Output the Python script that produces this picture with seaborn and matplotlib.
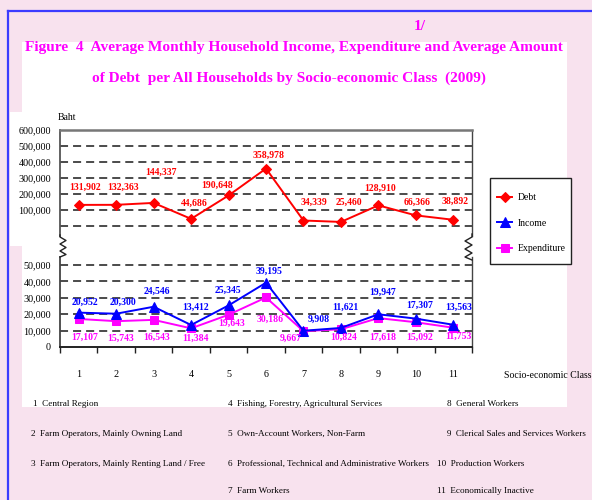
import numpy as np
import pandas as pd
import matplotlib
matplotlib.use("Agg")
import matplotlib.pyplot as plt
import seaborn as sns
from matplotlib.lines import Line2D
from matplotlib.patches import Rectangle

# ---------------- data ----------------
classes = [1, 2, 3, 4, 5, 6, 7, 8, 9, 10, 11]
class_labels = ["1", "2", "3", "4", "5", "6", "7", "8", "9", "10", "11"]
debt = [131902, 132363, 144337, 44686, 190648, 358978, 34339, 25460, 128910, 66366, 38892]
income = [20952, 20300, 24546, 13412, 25345, 39195, 9908, 11621, 19947, 17307, 13563]
expenditure = [17107, 15743, 16543, 11384, 19643, 30186, 9667, 10824, 17618, 15092, 11753]
top_ticks = [100000, 200000, 300000, 400000, 500000, 600000]
bottom_ticks = [0, 10000, 20000, 30000, 40000, 50000]
class_names = [
    "Central Region",
    "Farm Operators, Mainly Owning Land",
    "Farm Operators, Mainly Renting Land / Free",
    "Fishing, Forestry, Agricultural Services",
    "Own-Account Workers, Non-Farm",
    "Professional, Technical and Administrative Workers",
    "Farm Workers",
    "General Workers",
    "Clerical Sales and Services Workers",
    "Production Workers",
    "Economically Inactive",
]
title1 = "Figure  4  Average Monthly Household Income, Expenditure and Average Amount"
title2 = "of Debt  per All Households by Socio-economic Class  (2009)"

# ---------------- style ----------------
plt.rcParams["font.family"] = ["Liberation Serif", "DejaVu Serif"]
plt.rcParams["lines.scale_dashes"] = False

PINK = "#f8e2ee"
RED = "#ff0000"
BLUE = "#0000ff"
MAG = "#ff00ff"

W, H = 592, 500
fig = plt.figure(figsize=(W / 100, H / 100), dpi=100, facecolor=PINK)


def fx(x):
    return x / W


def fy(y):
    return 1 - y / H


# white panels
for (x0, y0, x1, y1) in [(22, 42, 567, 407), (10, 112, 22, 246)]:
    fig.add_artist(Rectangle((fx(x0), fy(y1)), fx(x1) - fx(x0), fy(y0) - fy(y1),
                             transform=fig.transFigure, facecolor="white",
                             edgecolor="none", zorder=-5))
# blue frame
fig.add_artist(Line2D([fx(7.5), fx(7.5)], [fy(11), 0], color="#3c3cff", lw=1.6, zorder=-4))
fig.add_artist(Line2D([fx(7.5), 1], [fy(11), fy(11)], color="#3c3cff", lw=1.6, zorder=-4))

# axes (broken y axis)
ax_t = fig.add_axes([fx(60), fy(236), (472 - 60) / W, (236 - 130) / H])
ax_b = fig.add_axes([fx(60), fy(347), (472 - 60) / W, (347 - 257) / H])
for ax in (ax_t, ax_b):
    ax.set_facecolor("none")
    ax.set_xlim(0.5, 11.5)
ax_t.set_ylim(-62500, 600000)
ax_b.set_ylim(0, 90 / 82 * 50000)

dash = (0, (5.8, 3.6))
for v in [0] + top_ticks:
    ax_t.axhline(v, color="#1a1a1a", lw=1.1, ls=dash, zorder=1)
for v in bottom_ticks[1:]:
    ax_b.axhline(v, color="#1a1a1a", lw=1.1, ls=dash, zorder=1)

sns.lineplot(x=classes, y=debt, ax=ax_t, color=RED, marker="D", markersize=5.5,
             markeredgecolor=RED, linewidth=1.4, label="Debt", zorder=3)
sns.lineplot(x=classes, y=income, ax=ax_b, color=BLUE, marker="^", markersize=6.5,
             markeredgecolor=BLUE, linewidth=1.4, label="Income", zorder=4)
sns.lineplot(x=classes, y=expenditure, ax=ax_b, color=MAG, marker="s", markersize=5.5,
             markeredgecolor=MAG, linewidth=1.4, label="Expenditure", zorder=3)

# spines
ax_t.spines["bottom"].set_visible(False)
ax_t.spines["top"].set_color("#777777")
ax_t.spines["top"].set_linewidth(1.8)
ax_t.spines["left"].set_color("#555555")
ax_t.spines["left"].set_linewidth(1.3)
ax_t.spines["right"].set_color("#444444")
ax_t.spines["right"].set_linewidth(1.0)
ax_b.spines["top"].set_visible(False)
ax_b.spines["left"].set_color("#444444")
ax_b.spines["left"].set_linewidth(1.3)
ax_b.spines["right"].set_color("#444444")
ax_b.spines["right"].set_linewidth(1.0)
ax_b.spines["bottom"].set_color("#222222")
ax_b.spines["bottom"].set_linewidth(1.4)

# ticks
fmt = lambda v: f"{v:,}"
ax_t.set_yticks(top_ticks)
ax_t.set_yticklabels([fmt(v) for v in top_ticks])
ax_t.set_xticks([])
ax_b.set_yticks(bottom_ticks)
ax_b.set_yticklabels([fmt(v) for v in bottom_ticks])
for ax in (ax_t, ax_b):
    ax.tick_params(axis="y", length=0, pad=6.5, labelsize=7.3, labelcolor="black")
ax_b.set_xticks(classes)
ax_b.set_xticklabels(class_labels)
ax_b.set_xticks([c - 0.5 for c in classes] + [classes[-1] + 0.5], minor=True)
ax_b.tick_params(axis="x", which="major", length=0, pad=16.5, labelsize=7.3,
                 labelcolor="black", bottom=True)
ax_b.tick_params(axis="x", which="minor", length=4.5, width=1.0, direction="out",
                 color="#222222", bottom=True)
ax_t.set_xlabel("")
ax_b.set_xlabel("")
ax_t.set_ylabel("")
ax_b.set_ylabel("")

# break marks
zl = [(60, 235), (60, 237), (66, 240.5), (60, 244), (66, 247.5), (60, 251), (66, 254.5), (60, 257)]
zr = [(472, 234), (472, 237), (465, 241), (472, 245), (465, 249), (472, 253), (465, 257), (472, 260)]
for pts in (zl, zr):
    fig.add_artist(Line2D([fx(p[0]) for p in pts], [fy(p[1]) for p in pts],
                          color="#222222", lw=1.0))

# value labels (pixel offsets: dx right, dy down)
debt_off = [(6, -18), (7, -18), (7, -31), (3, -16), (-11, -10), (3, -13), (10, -18), (8, -20), (2, -17), (1, -13), (2, -18)]
inc_off = [(6, -10), (7, -11), (3, -15), (4, -18), (-1, -15), (3, -11), (15, -11), (4, -21), (4, -22), (4, -13), (5, -17)]
exp_off = [(6, 18), (4, 17), (3, 17), (4, 10), (3, 9), (4, 22), (-13, 7), (3, 8), (4, 19), (4, 15), (5, 9)]
for ax, vals, offs, col in [(ax_t, debt, debt_off, RED), (ax_b, income, inc_off, BLUE),
                            (ax_b, expenditure, exp_off, MAG)]:
    for c, v, (dx, dy) in zip(classes, vals, offs):
        ax.annotate(fmt(v), (c, v), xytext=(dx, -dy), textcoords="offset pixels",
                    ha="center", va="center", fontsize=7, fontweight="bold",
                    color=col, annotation_clip=False, zorder=6)

# legend
handles, labels = [], []
for ax in (ax_t, ax_b):
    h, l = ax.get_legend_handles_labels()
    handles += h
    labels += l
    if ax.get_legend() is not None:
        ax.get_legend().remove()
fig.add_artist(Rectangle((fx(490), fy(264)), fx(571) - fx(490), fy(178) - fy(264),
                         transform=fig.transFigure, facecolor="white",
                         edgecolor="#222222", lw=1.0, zorder=5))
leg = fig.legend(handles, labels, loc="center left", bbox_to_anchor=(fx(497), fy(223)),
                 frameon=False, fontsize=7, handlelength=1.55, handletextpad=0.6,
                 labelspacing=1.7, borderpad=0, borderaxespad=0)
leg.set_zorder(6)

# texts
fig.text(fx(293.5), fy(47), title1, ha="center", va="center", fontsize=11.1,
         fontweight="bold", color=MAG)
fig.text(fx(288.5), fy(78), title2, ha="center", va="center", fontsize=11.1,
         fontweight="bold", color=MAG)
fig.text(fx(419.5), fy(27), "1/", ha="center", va="center", fontsize=11.1,
         fontweight="bold", color=MAG)
fig.text(fx(58), fy(117), "Baht", ha="left", va="center", fontsize=7, color="black")
fig.text(fx(504), fy(375), "Socio-economic Class", ha="left", va="center",
         fontsize=7, color="black")

note_pos = [(33, 404), (31, 434), (31, 464), (228, 404), (228, 434), (228, 464),
            (228, 491), (447, 404), (447, 434), (437, 464), (437, 491)]
for i, (name, (px, py)) in enumerate(zip(class_names, note_pos)):
    n = class_labels[i]
    fig.text(fx(px), fy(py), f"{n}  {name}", ha="left", va="center",
             fontsize=6.6 if n != "9" else 6.4, color="black")

fig.savefig("out.png", dpi=100, facecolor=PINK)
